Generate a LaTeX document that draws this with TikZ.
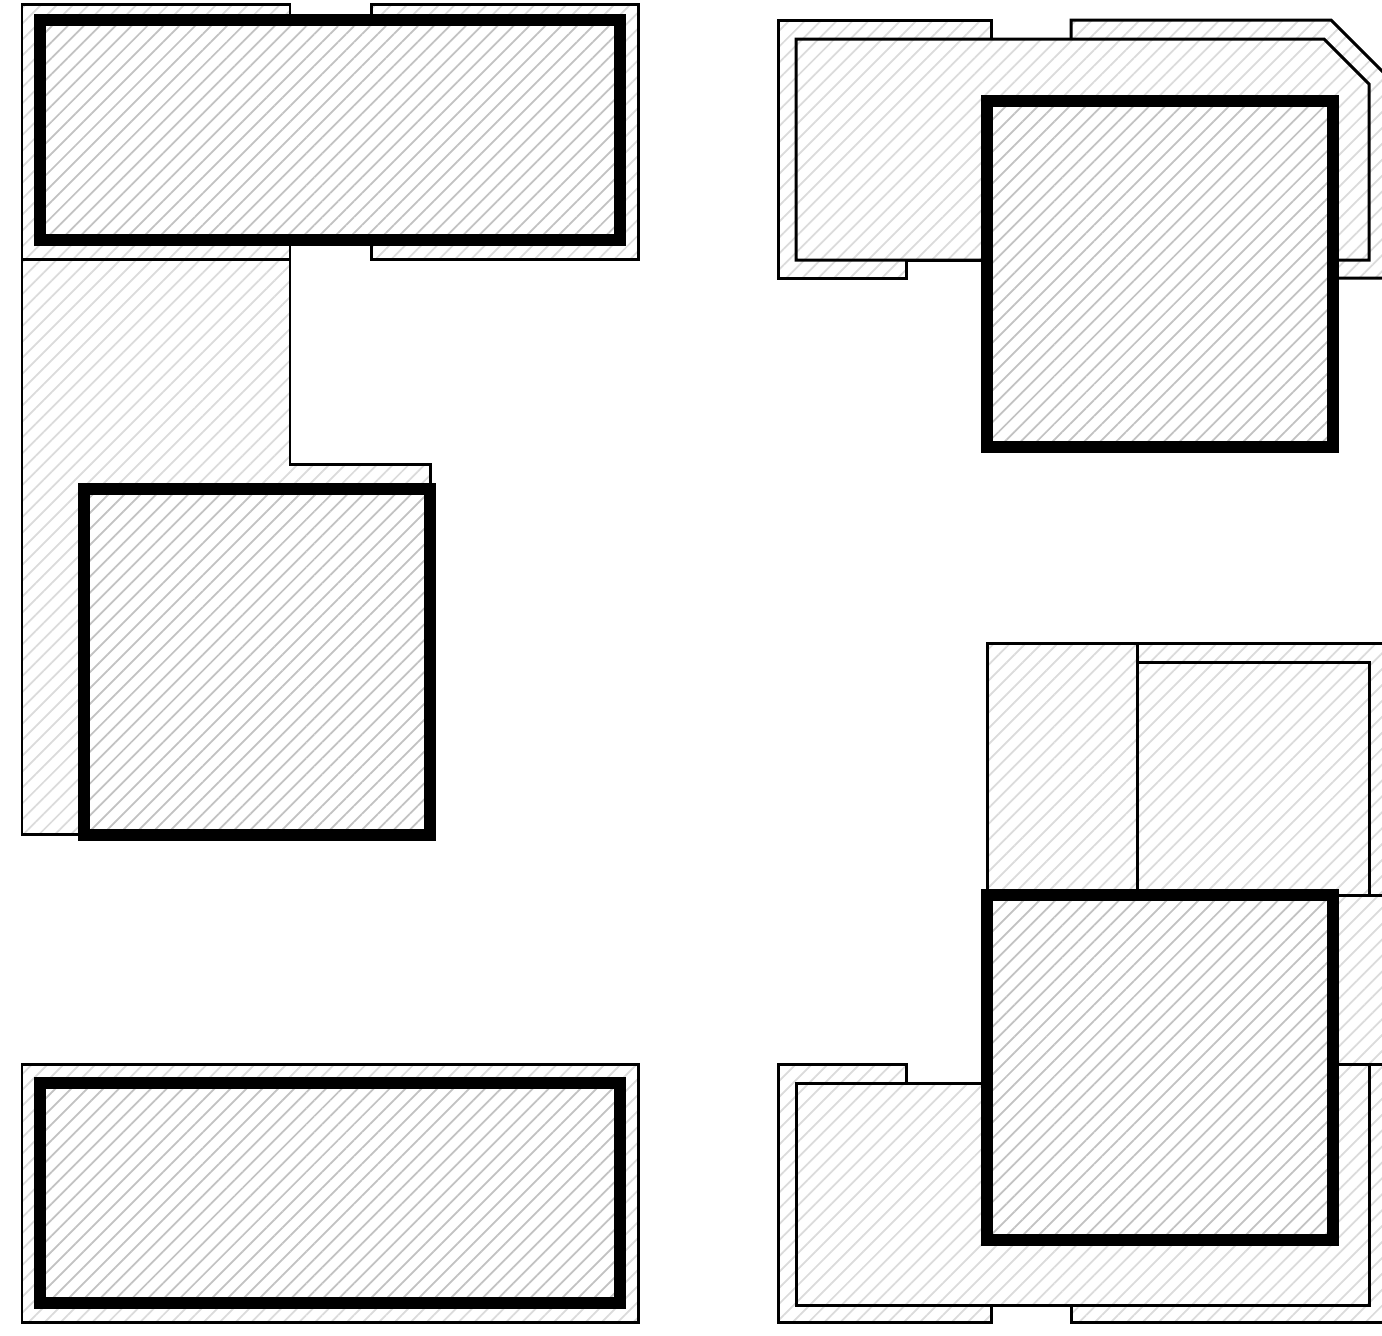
\documentclass[tikz,border=0pt]{standalone}
\usetikzlibrary{patterns.meta}
\definecolor{hatchlight}{gray}{0.86}
\definecolor{hatchdark}{gray}{0.76}
\tikzset{
  room/.style={draw=black, line width=0.85pt, preaction={fill=white},
    pattern={Lines[angle=45,distance=3.2pt,line width=0.5pt]}, pattern color=hatchlight},
  block/.style={draw=black, line width=3.5pt, preaction={fill=white},
    pattern={Lines[angle=45,distance=3.2pt,line width=0.5pt]}, pattern color=hatchdark},
}
\begin{document}
\begin{tikzpicture}[x=0.01cm, y=-0.01cm]
  \clip (0,0) rectangle (1382,1335);
  % top left block
  \path[room] (22,4) rectangle (290,259);
  \path[room] (371,4) rectangle (638,259);
  \path[block] (40,20) rectangle (620,240);
  % left wing
  \path[room] (22,259) -- (290,259) -- (290,464) -- (430,464) -- (430,834) -- (22,834) -- cycle;
  \path[block] (84,489) rectangle (430,835);
  % bottom left block
  \path[room] (22,1064) rectangle (638,1322);
  \path[block] (40,1083) rectangle (620,1303);
  % top right block
  \path[room] (778,20) -- (991,20) -- (991,260) -- (906,260) -- (906,278) -- (778,278) -- cycle;
  \path[room] (1071,20) -- (1331,20) -- (1400,89) -- (1400,278) -- (1071,278) -- cycle;
  \path[room] (796,39) -- (1324,39) -- (1369,84) -- (1369,260) -- (796,260) -- cycle;
  \path[block] (987,101) rectangle (1333,447);
  % bottom right block
  \path[room] (987,643) rectangle (1137,895);
  \path[room] (1137,643) rectangle (1400,895);
  \path[room] (1137,662) rectangle (1369,895);
  \path[room] (1200,895) rectangle (1400,1064);
  \path[room] (778,1064) -- (906,1064) -- (906,1083) -- (991,1083) -- (991,1322) -- (778,1322) -- cycle;
  \path[room] (1071,1064) rectangle (1400,1322);
  \path[room] (796,1083) -- (1160,1083) -- (1160,1064) -- (1369,1064) -- (1369,1305) -- (796,1305) -- cycle;
  \path[block] (987,895) rectangle (1333,1240);
\end{tikzpicture}
\end{document}
